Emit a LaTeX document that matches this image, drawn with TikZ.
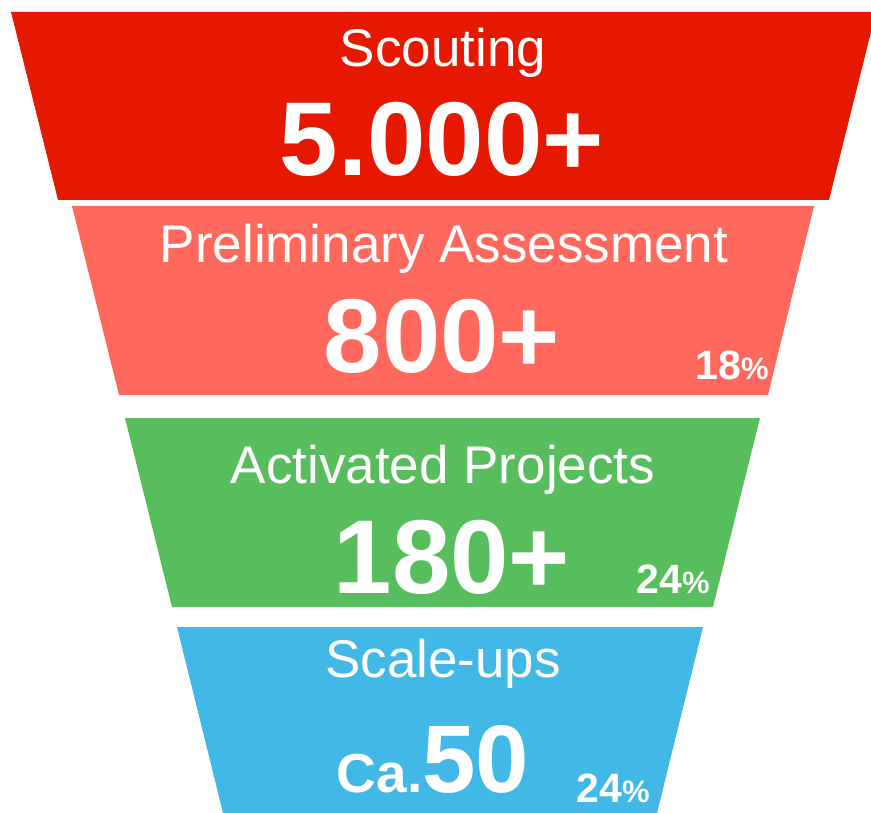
\documentclass[tikz,border=0pt]{standalone}
\usepackage{fontspec}
\setmainfont{Liberation Sans}
\definecolor{cRed}{RGB}{230,24,0}
\definecolor{cSalmon}{RGB}{255,104,92}
\definecolor{cGreen}{RGB}{88,190,93}
\definecolor{cBlue}{RGB}{65,184,230}
\begin{document}
\begin{tikzpicture}[x=1pt,y=-1pt,
  lbl/.style={text=white,inner sep=0pt,anchor=base,font=\fontsize{53}{53}\selectfont},
  num/.style={text=white,inner sep=0pt,anchor=base,font=\bfseries\fontsize{105}{105}\selectfont},
  pct/.style={text=white,inner sep=0pt,anchor=base,font=\bfseries\fontsize{41}{41}\selectfont}]
\useasboundingbox (0,0) rectangle (871,813);
\fill[cRed] (11,12) -- (876,12) -- (829,200) -- (58,200) -- cycle;
\fill[cSalmon] (72,206) -- (814,206) -- (768,395) -- (119,395) -- cycle;
\fill[cGreen] (125,418) -- (760,418) -- (713,607) -- (172,607) -- cycle;
\fill[cBlue] (177,627) -- (703,627) -- (657,813) -- (223,813) -- cycle;
\node[lbl] (t1) at (443,67) {Scouting};
\node[num] (n1) at (442,176) {5.000+};
\node[lbl] (t2) at (444,263) {Preliminary Assessment};
\node[num] (n2) at (442,372) {800+};
\node[pct] (p2) at (732,380) {18{\fontsize{31}{31}\selectfont\%}};
\node[lbl] (t3) at (443,483) {Activated Projects};
\node[num] (n3) at (452,593) {180+};
\node[pct] (p3) at (673,593) {24{\fontsize{31}{31}\selectfont\%}};
\node[lbl] (t4) at (443,677) {Scale-ups};
\node[num] (n4) at (433,792) {{\fontsize{55}{55}\selectfont Ca.}{\fontsize{96}{96}\selectfont 50}};
\node[pct] (p4) at (613,802) {24{\fontsize{31}{31}\selectfont\%}};
\end{tikzpicture}
\end{document}
